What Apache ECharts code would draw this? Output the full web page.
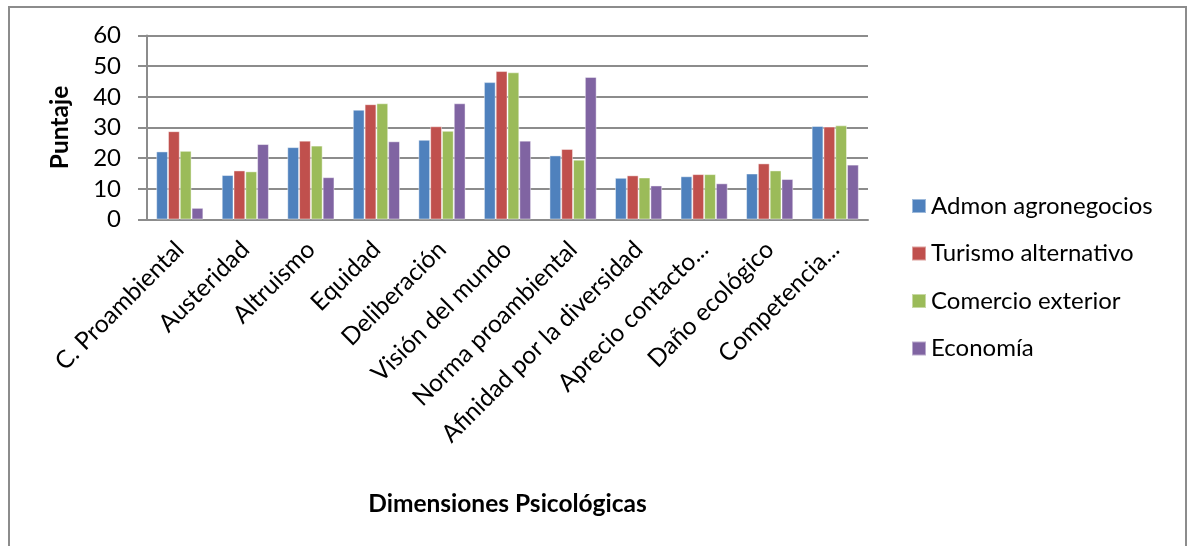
<!DOCTYPE html>
<html>
<head>
<meta charset="utf-8">
<title>Dimensiones Psicológicas</title>
<script src="https://cdn.jsdelivr.net/npm/echarts@6/dist/echarts.min.js"></script>
<style>
  html, body { margin: 0; padding: 0; background: #fff; overflow: hidden; }
  /* 图表外框 */
  .frame {
    position: absolute; left: 8px; top: 6px; width: 1179px; height: 600px;
    border: 2px solid #8c8c8c; box-sizing: border-box;
  }
  #chart { position: absolute; left: 0; top: 0; width: 1188px; height: 546px; }
</style>
</head>
<body>
<div class="frame"></div>
<div id="chart"></div>
<script>
// categorías del eje X
const categories = [
  'C. Proambiental', 'Austeridad', 'Altruismo', 'Equidad', 'Deliberación',
  'Visión del mundo', 'Norma proambiental', 'Afinidad por la diversidad',
  'Aprecio contacto...', 'Daño ecológico', 'Competencia...'
]
// valores de cada serie
const admon = [22.2, 14.5, 23.6, 35.8, 26.0, 44.8, 20.9, 13.6, 14.1, 15.0, 30.5]
const turismo = [28.8, 16.0, 25.7, 37.6, 30.4, 48.4, 23.0, 14.4, 14.8, 18.3, 30.3]
const comercio = [22.4, 15.7, 24.1, 37.9, 28.9, 48.0, 19.5, 13.7, 14.8, 16.0, 30.7]
const economia = [3.8, 24.6, 13.8, 25.5, 37.9, 25.7, 46.5, 11.1, 11.8, 13.2, 17.9]
const seriesNames = ['Admon agronegocios', 'Turismo alternativo', 'Comercio exterior', 'Economía']
const seriesColors = ['#4f81bd', '#c0504d', '#9bbb59', '#8064a2']

const font = 'Lato, "Open Sans", sans-serif'
const gray = '#8c8c8c'

const chart = echarts.init(document.getElementById('chart'))
const seriesData = [admon, turismo, comercio, economia]

const option = {
  animation: false,
  textStyle: { fontFamily: font },
  grid: { left: 147, right: 320, top: 35.5, bottom: 326.5, containLabel: false },
  legend: {
    orient: 'vertical',
    left: 906,
    top: 189,
    itemWidth: 14,
    itemHeight: 14,
    itemGap: 23.5,
    icon: 'rect',
    textStyle: { fontSize: 24, color: '#000', fontFamily: font, padding: [0, 0, 0, 0] },
    data: seriesNames
  },
  xAxis: {
    type: 'category',
    data: categories,
    name: 'Dimensiones Psicológicas',
    nameLocation: 'middle',
    nameGap: 272,
    nameTextStyle: { fontSize: 24.5, fontWeight: 'bold', color: '#000', fontFamily: font },
    axisLine: { lineStyle: { color: gray, width: 2 } },
    axisTick: { show: false },
    axisLabel: { rotate: 45, fontSize: 24.5, color: '#000', margin: 26, interval: 0, fontFamily: font }
  },
  yAxis: {
    type: 'value',
    min: 0,
    max: 60,
    interval: 10,
    name: 'Puntaje',
    nameLocation: 'middle',
    nameRotate: 90,
    nameGap: 74,
    nameTextStyle: { fontSize: 24.5, fontWeight: 'bold', color: '#000', fontFamily: font },
    axisLine: { show: true, lineStyle: { color: gray, width: 2 } },
    axisTick: { show: true, length: 9, lineStyle: { color: gray, width: 2 } },
    splitLine: { lineStyle: { color: gray, width: 2 } },
    axisLabel: { fontSize: 24, color: '#000', margin: 26, fontFamily: font }
  },
  series: seriesNames.map((name, i) => ({
    name: name,
    type: 'bar',
    data: seriesData[i],
    barGap: '0%',
    barCategoryGap: '28%',
    itemStyle: { color: seriesColors[i], borderColor: 'rgba(255,255,255,0.45)', borderWidth: 1 }
  }))
}

chart.setOption(option)
</script>
</body>
</html>
